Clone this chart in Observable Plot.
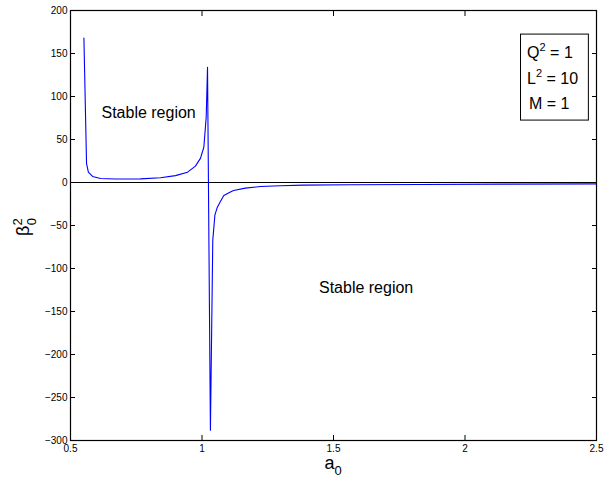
<!DOCTYPE html>
<html>
<head>
<meta charset="utf-8">
<script src="https://cdn.jsdelivr.net/npm/d3@7"></script>
<script src="https://cdn.jsdelivr.net/npm/@observablehq/plot@0.6"></script>
<style>
  html, body { margin: 0; padding: 0; background: #fff; }
  #chart svg { font-family: "Liberation Sans", Arial, Helvetica, sans-serif; display: block; }
</style>
</head>
<body>
<div id="chart"></div>
<script>
// Squared perturbation amplitude beta_0^2 as a function of a_0
const a0 = [0.551, 0.561, 0.568, 0.584, 0.614, 0.671, 0.766, 0.842, 0.899, 0.945, 0.975, 0.994, 1.007, 1.016, 1.021,
            1.032, 1.041, 1.049, 1.058, 1.070, 1.083, 1.108, 1.120, 1.165, 1.222, 1.298, 1.386, 1.565, 1.831, 2.135, 2.5];
const beta2 = [168, 22, 12, 7, 4.6, 4, 4.2, 5.5, 8, 12, 19, 28, 41, 76, 134,
               -288, -67, -38, -29, -22, -15, -11, -9.3, -6.5, -4.7, -3.7, -3.1, -2.6, -2.3, -1.9, -1.6];

const xTicks = [0.5, 1, 1.5, 2, 2.5];
const yTicks = [200, 150, 100, 50, 0, -50, -100, -150, -200, -250, -300];

// Region annotations
const regionLabels = ["Stable region", "Stable region"];
const regionX = [0.797, 1.624];
const regionY = [81, -122];

// Parameter box: symbol, its exponent, and the assigned value
const paramSymbol = ["Q", "L", "M"];
const paramPower = ["2", "2", ""];
const paramValue = [" = 1", " = 10", " = 1"];
const paramX = [2.238, 2.238, 2.245];
const paramY = [150, 120, 91];
const paramBox = [{x1: 2.213, x2: 2.471, y1: 72, y2: 172}];

const curve = a0.map((x, i) => ({x, y: beta2[i]}));
const regions = regionLabels.map((t, i) => ({t, x: regionX[i], y: regionY[i]}));

const W = 607, H = 482;
const mL = 70, mR = 11, mT = 10, mB = 42;
const tick = -5;

const chart = Plot.plot({
  width: W,
  height: H,
  marginLeft: mL,
  marginRight: mR,
  marginTop: mT,
  marginBottom: mB,
  style: {fontFamily: "'Liberation Sans', Arial, Helvetica, sans-serif", background: "#fff"},
  x: {domain: [0.5, 2.5]},
  y: {domain: [-300, 200]},
  marks: [
    Plot.ruleY([0], {stroke: "#000", strokeWidth: 1}),
    Plot.line(curve, {x: "x", y: "y", stroke: "#0000ff", strokeWidth: 1.1}),
    Plot.text(regions, {x: "x", y: "y", text: "t", fontSize: 16, fill: "#000"}),
    Plot.rect(paramBox, {x1: "x1", x2: "x2", y1: "y1", y2: "y2", fill: "#fff", stroke: "#000", strokeWidth: 1}),
    Plot.axisX(xTicks, {anchor: "bottom", tickSize: tick, tickPadding: 9, fontSize: 10, label: null, tickFormat: d => String(d)}),
    Plot.axisX(xTicks, {anchor: "top", tickSize: tick, tickFormat: () => "", label: null}),
    Plot.axisY(yTicks, {anchor: "left", tickSize: tick, tickPadding: 8, fontSize: 10, label: null}),
    Plot.axisY(yTicks, {anchor: "right", tickSize: tick, tickFormat: () => "", label: null}),
    Plot.frame({stroke: "#000", strokeWidth: 1.2})
  ]
});

const svg = d3.select(chart);
const sx = chart.scale("x");
const sy = chart.scale("y");
const cx = mL + (W - mL - mR) / 2;
const cy = mT + (H - mT - mB) / 2;

// Parameter lines with raised exponents
paramSymbol.forEach((s, i) => {
  const t = svg.append("text")
    .attr("x", sx.apply(paramX[i]))
    .attr("y", sy.apply(paramY[i]))
    .attr("dy", "0.32em")
    .attr("text-anchor", "start")
    .attr("font-size", 16)
    .attr("fill", "#000");
  t.append("tspan").text(s);
  if (paramPower[i]) {
    t.append("tspan").attr("dy", -7).attr("font-size", 11).text(paramPower[i]);
    t.append("tspan").attr("dy", 7).text(paramValue[i]);
  } else {
    t.append("tspan").text(paramValue[i]);
  }
});

// x-axis title: a with subscript 0
const xt = svg.append("text")
  .attr("x", cx).attr("y", 469)
  .attr("text-anchor", "middle")
  .attr("font-size", 18)
  .attr("fill", "#000");
xt.append("tspan").text("a");
xt.append("tspan").attr("dy", 6).attr("font-size", 13).text("0");

// y-axis title: beta with subscript 0 and superscript 2
const yt = svg.append("text")
  .attr("transform", `translate(29,${cy + 2}) rotate(-90)`)
  .attr("text-anchor", "middle")
  .attr("font-size", 18)
  .attr("fill", "#000");
yt.append("tspan").text("β");
yt.append("tspan").attr("dy", -7).attr("font-size", 13).text("2");
yt.append("tspan").attr("dx", -7).attr("dy", 14).attr("font-size", 13).text("0");

document.getElementById("chart").appendChild(chart);
</script>
</body>
</html>
